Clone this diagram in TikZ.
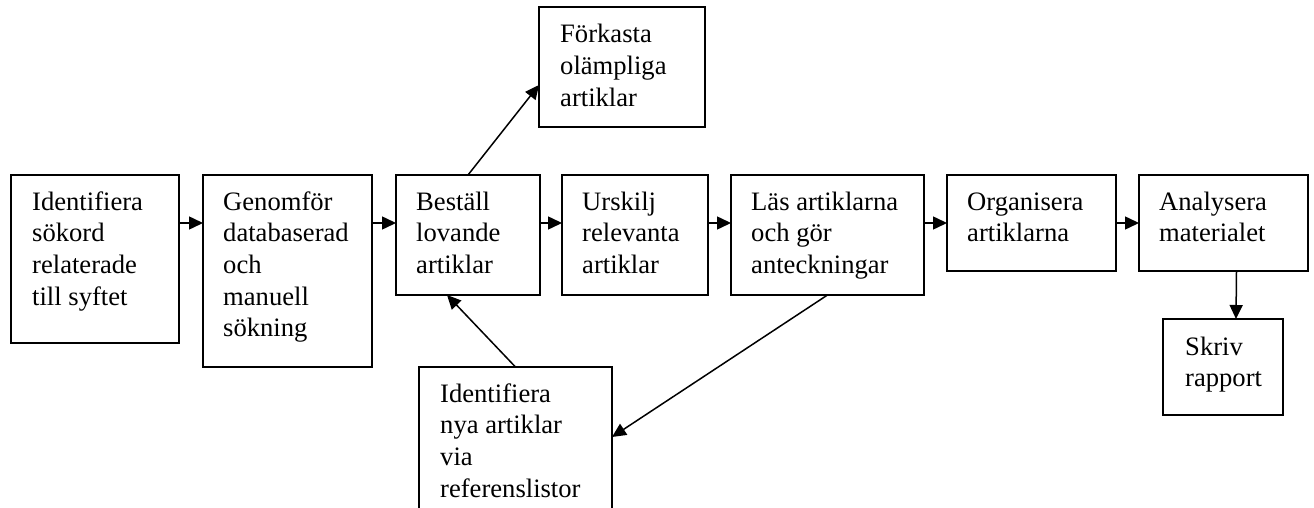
\documentclass[tikz,border=0pt]{standalone}
\usepackage{fontspec}
\setmainfont{Liberation Serif}
\usetikzlibrary{arrows.meta,calc}

\tikzset{
  box/.style={draw=black, line width=1.6pt, anchor=north west, inner sep=0pt, outer sep=0pt},
  lbl/.style={anchor=base west, inner sep=0pt, align=left,
              font=\fontsize{26.6}{31.7}\selectfont},
  flow/.style={line width=1.5pt, -{Triangle[length=14pt,width=13pt]}},
}
% multi-line box text, anchored at the baseline of its first line
\newcommand{\boxtext}[1]{\parbox[t]{8cm}{\raggedright #1}}

\begin{document}
\begin{tikzpicture}[x=1pt, y=-1pt]
  \useasboundingbox (0,0) rectangle (1314,508);
  \clip (0,0) rectangle (1314,508);

  % main row of steps
  \node[box, minimum width=168, minimum height=168] (b1) at (11,175) {};
  \node[box, minimum width=169, minimum height=192] (b2) at (203,175) {};
  \node[box, minimum width=144, minimum height=120] (b3) at (396,175) {};
  \node[box, minimum width=146, minimum height=120] (b4) at (562,175) {};
  \node[box, minimum width=193, minimum height=120] (b5) at (731,175) {};
  \node[box, minimum width=169, minimum height=96]  (b6) at (947,175) {};
  \node[box, minimum width=169, minimum height=96]  (b7) at (1139,175) {};

  % side steps
  \node[box, minimum width=166, minimum height=120] (fk) at (539,7) {};
  \node[box, minimum width=193, minimum height=160] (ny) at (419,367) {};
  \node[box, minimum width=120, minimum height=96]  (sk) at (1163,319) {};

  % texts
  \node[lbl] (t1) at ([shift={(21,35)}]b1.north west) {\boxtext{Identifiera\\sökord\\relaterade\\till syftet}};
  \node[lbl] (t2) at ([shift={(20,35)}]b2.north west) {\boxtext{Genomför\\databaserad\\och\\manuell\\sökning}};
  \node[lbl] (t3) at ([shift={(20,35)}]b3.north west) {\boxtext{Beställ\\lovande\\artiklar}};
  \node[lbl] (t4) at ([shift={(20,35)}]b4.north west) {\boxtext{Urskilj\\relevanta\\artiklar}};
  \node[lbl] (t5) at ([shift={(20,35)}]b5.north west) {\boxtext{Läs artiklarna\\och gör\\anteckningar}};
  \node[lbl] (t6) at ([shift={(20,35)}]b6.north west) {\boxtext{Organisera\\artiklarna}};
  \node[lbl] (t7) at ([shift={(20,35)}]b7.north west) {\boxtext{Analysera\\materialet}};
  \node[lbl] (tf) at ([shift={(21,36)}]fk.north west) {\boxtext{Förkasta\\olämpliga\\artiklar}};
  \node[lbl] (tn) at ([shift={(21,35)}]ny.north west) {\boxtext{Identifiera\\nya artiklar\\via\\referenslistor}};
  \node[lbl] (ts) at ([shift={(22,36)}]sk.north west) {\boxtext{Skriv\\rapport}};

  % connector end points on box edges (yshift is in page direction: negative = down)
  \coordinate (r1) at ([yshift=-48]b1.north east);
  \coordinate (l2) at ([yshift=-48]b2.north west);
  \coordinate (r2) at ([yshift=-48]b2.north east);
  \coordinate (l3) at ([yshift=-48]b3.north west);
  \coordinate (r3) at ([yshift=-48]b3.north east);
  \coordinate (l4) at ([yshift=-48]b4.north west);
  \coordinate (r4) at ([yshift=-48]b4.north east);
  \coordinate (l5) at ([yshift=-48]b5.north west);
  \coordinate (r5) at ([yshift=-48]b5.north east);
  \coordinate (l6) at ([yshift=-48]b6.north west);
  \coordinate (r6) at ([yshift=-48]b6.north east);
  \coordinate (l7) at ([yshift=-48]b7.north west);
  \coordinate (fkin) at ([yshift=-78]fk.north west);
  \coordinate (nyin) at ([yshift=-70]ny.north east);
  \coordinate (b3in) at ([xshift=51]b3.south west);
  \coordinate (b7out) at ([xshift=13]b7.south);
  \coordinate (skin) at ([xshift=13]sk.north);

  % connectors
  \draw[flow] (r1) -- (l2);
  \draw[flow] (r2) -- (l3);
  \draw[flow] (r3) -- (l4);
  \draw[flow] (r4) -- (l5);
  \draw[flow] (r5) -- (l6);
  \draw[flow] (r6) -- (l7);
  \draw[flow] (b3.north) -- (fkin);
  \draw[flow] (b5.south) -- (nyin);
  \draw[flow] (ny.north) -- (b3in);
  \draw[flow] (b7out) -- (skin);
\end{tikzpicture}
\end{document}
